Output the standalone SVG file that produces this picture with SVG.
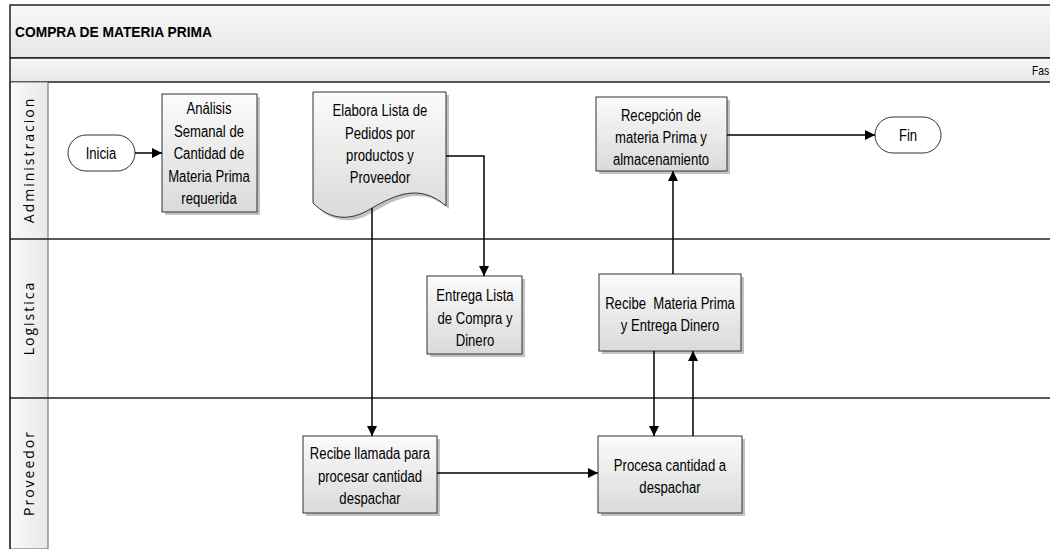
<svg xmlns="http://www.w3.org/2000/svg" width="1050" height="549" viewBox="0 0 1050 549">
<style>
.t{font-family:"Liberation Sans",Arial,sans-serif;font-size:16px;fill:#000;text-anchor:middle}
.lane{font-family:"Open Sans","DejaVu Sans",sans-serif;font-size:14px;fill:#000;text-anchor:middle;letter-spacing:2px}
.box{fill:url(#g);stroke:#333;stroke-width:1}
.sh{fill:#999;opacity:0.6}
.c{fill:none;stroke:#000;stroke-width:1.5}
.sep{stroke:#222;stroke-width:1.5}
</style>
<defs>
<linearGradient id="g" x1="0" y1="0" x2="0" y2="1"><stop offset="0" stop-color="#fbfbfb"/><stop offset="1" stop-color="#dadada"/></linearGradient>
<linearGradient id="hb" x1="0" y1="0" x2="0" y2="1"><stop offset="0" stop-color="#f8f8f8"/><stop offset="1" stop-color="#e6e6e6"/></linearGradient>
<linearGradient id="lh" x1="0" y1="0" x2="1" y2="0"><stop offset="0" stop-color="#fafafa"/><stop offset="1" stop-color="#e8e8e8"/></linearGradient>
<marker id="a" viewBox="0 0 10 10" refX="10" refY="5" markerWidth="10" markerHeight="10" markerUnits="userSpaceOnUse" orient="auto"><path d="M0,0 L10,5 L0,10 Z" fill="#000"/></marker>
</defs>
<rect width="1050" height="549" fill="#fff"/>
<g id="pool">
<rect x="10" y="5" width="1045" height="53" fill="url(#hb)" stroke="#222" stroke-width="1.5"/>
<text x="15" y="37" font-family="Liberation Sans,Arial,sans-serif" font-weight="bold" font-size="15" textLength="197" lengthAdjust="spacingAndGlyphs">COMPRA DE MATERIA PRIMA</text>
<rect x="10" y="58" width="1045" height="24" fill="url(#hb)" stroke="#222" stroke-width="1.5"/>
<text transform="translate(1032,75) scale(0.85,1)" font-family="Liberation Sans,Arial,sans-serif" font-size="12">Fas</text>
</g>
<g id="lanes">
<rect x="10" y="82" width="38" height="467" fill="url(#lh)" stroke="#666" stroke-width="1"/>
<line class="sep" x1="10" y1="239" x2="1050" y2="239"/>
<line class="sep" x1="10" y1="398" x2="1050" y2="398"/>
<line x1="10" y1="82" x2="10" y2="549" stroke="#222" stroke-width="1.5"/>
<text class="lane" transform="translate(34,160) rotate(-90)">Administracion</text>
<text class="lane" transform="translate(34,318) rotate(-90)">Logistica</text>
<text class="lane" transform="translate(34,473) rotate(-90)">Proveedor</text>
</g>
<g id="inicia">
<rect x="68" y="135" width="67" height="36" rx="18" fill="#fff" stroke="#333" stroke-width="1"/>
<text class="t" transform="translate(101,159) scale(0.82,1)">Inicia</text>
</g>
<g id="analisis">
<rect class="sh" x="165" y="97" width="95" height="118"/>
<rect class="box" x="162" y="94" width="95" height="118"/>
<text class="t" transform="translate(209,114) scale(0.82,1)">Análisis</text>
<text class="t" transform="translate(209,136.5) scale(0.82,1)">Semanal de</text>
<text class="t" transform="translate(209,159) scale(0.82,1)">Cantidad de</text>
<text class="t" transform="translate(209,181.5) scale(0.82,1)">Materia Prima</text>
<text class="t" transform="translate(209,204) scale(0.82,1)">requerida</text>
</g>
<g id="elabora">
<path class="sh" d="M316,95 H449 V209 C423,186 398,198 375,211 C353,225 333,223 316,206 Z"/>
<path class="box" d="M313,92 H446 V206 C420,183 395,195 372,208 C350,222 330,220 313,203 Z"/>
<text class="t" transform="translate(380,116) scale(0.82,1)">Elabora Lista de</text>
<text class="t" transform="translate(380,139) scale(0.82,1)">Pedidos por</text>
<text class="t" transform="translate(380,161) scale(0.82,1)">productos y</text>
<text class="t" transform="translate(380,183) scale(0.82,1)">Proveedor</text>
</g>
<g id="entrega">
<rect class="sh" x="430" y="279" width="95" height="78"/>
<rect class="box" x="427" y="276" width="95" height="78"/>
<text class="t" transform="translate(475,301) scale(0.82,1)">Entrega Lista</text>
<text class="t" transform="translate(475,323.5) scale(0.82,1)">de Compra y</text>
<text class="t" transform="translate(475,346) scale(0.82,1)">Dinero</text>
</g>
<g id="recibe-llamada">
<rect class="sh" x="306" y="439" width="134" height="77"/>
<rect class="box" x="303" y="436" width="134" height="77"/>
<text class="t" transform="translate(370,459) scale(0.82,1)">Recibe llamada para</text>
<text class="t" transform="translate(370,481.5) scale(0.82,1)">procesar cantidad</text>
<text class="t" transform="translate(370,504) scale(0.82,1)">despachar</text>
</g>
<g id="procesa">
<rect class="sh" x="601" y="439" width="144" height="77"/>
<rect class="box" x="598" y="436" width="144" height="77"/>
<text class="t" transform="translate(670,471) scale(0.82,1)">Procesa cantidad a</text>
<text class="t" transform="translate(670,493) scale(0.82,1)">despachar</text>
</g>
<g id="recibe-mp">
<rect class="sh" x="602" y="277" width="142" height="77"/>
<rect class="box" x="599" y="274" width="142" height="77"/>
<text class="t" transform="translate(670,309) scale(0.82,1)" xml:space="preserve">Recibe  Materia Prima</text>
<text class="t" transform="translate(670,331) scale(0.82,1)">y Entrega Dinero</text>
</g>
<g id="recepcion">
<rect class="sh" x="599" y="100" width="131" height="74"/>
<rect class="box" x="596" y="97" width="131" height="74"/>
<text class="t" transform="translate(661,121) scale(0.82,1)">Recepción de</text>
<text class="t" transform="translate(661,143) scale(0.82,1)">materia Prima y</text>
<text class="t" transform="translate(661,164.5) scale(0.82,1)">almacenamiento</text>
</g>
<g id="fin">
<rect x="875" y="117" width="66" height="36" rx="18" fill="#fff" stroke="#333" stroke-width="1"/>
<text class="t" transform="translate(908,141) scale(0.82,1)">Fin</text>
</g>
<g id="connectors">
<path class="c" d="M135,153 H162" marker-end="url(#a)"/>
<path class="c" d="M446,156 H484 V276" marker-end="url(#a)"/>
<path class="c" d="M372,208 V436" marker-end="url(#a)"/>
<path class="c" d="M437,473 H598" marker-end="url(#a)"/>
<path class="c" d="M654,351 V436" marker-end="url(#a)"/>
<path class="c" d="M693,436 V351" marker-end="url(#a)"/>
<path class="c" d="M673,274 V171" marker-end="url(#a)"/>
<path class="c" d="M727,135 H875" marker-end="url(#a)"/>
</g>
</svg>
